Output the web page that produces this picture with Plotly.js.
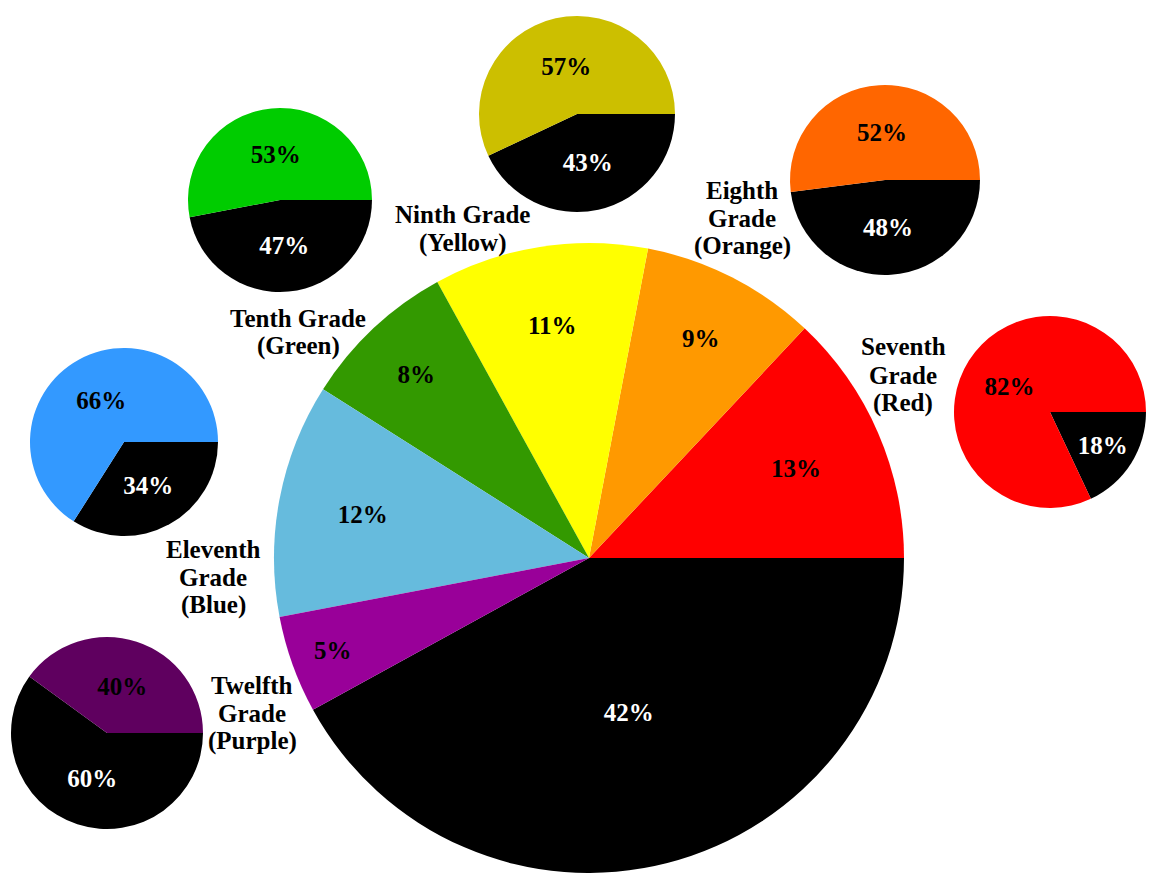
<!DOCTYPE html>
<html>
<head>
<meta charset="utf-8">
<script src="https://cdn.plot.ly/plotly-3.0.1.min.js"></script>
<style>html,body{margin:0;padding:0;background:#fff;}#chart{width:1159px;height:873px;}</style>
</head>
<body>
<div id="chart"></div>
<script>
// Main pie: share by grade (black = remainder), listed black first so that
// Plotly's counterclockwise layout starts Red at 3 o'clock going up.
const grades = ["Other", "Seventh Grade (Red)", "Eighth Grade (Orange)", "Ninth Grade (Yellow)", "Tenth Grade (Green)", "Eleventh Grade (Blue)", "Twelfth Grade (Purple)"];
const gradeShares = [42, 13, 9, 11, 8, 12, 5];
const mainColors = ["#000000", "#FF0000", "#FF9900", "#FFFF00", "#339900", "#66BBDD", "#990099"];

// Small pies: [black part, colored part] for each grade
const seventhSplit = [18, 82];
const eighthSplit = [48, 52];
const ninthSplit = [43, 57];
const tenthSplit = [47, 53];
const eleventhSplit = [34, 66];
const twelfthSplit = [60, 40];
const splitLabels = ["Rest", "Grade"];

const gradeLabelLines = [
  ["Seventh", "Grade", "(Red)"],
  ["Eighth", "Grade", "(Orange)"],
  ["Ninth Grade", "(Yellow)"],
  ["Tenth Grade", "(Green)"],
  ["Eleventh", "Grade", "(Blue)"],
  ["Twelfth", "Grade", "(Purple)"]
];

const W = 1159, H = 873;
const FONT = "Liberation Serif";

function dom(cx, cy, r) {
  return {x: [(cx - r) / W, (cx + r) / W], y: [(H - cy - r) / H, (H - cy + r) / H]};
}
function smallPie(vals, color, cx, cy, r) {
  return {
    type: "pie", values: vals, labels: splitLabels, sort: false,
    direction: "counterclockwise", rotation: 90,
    marker: {colors: ["#000000", color], line: {width: 0}},
    texttemplate: "%{percent:.0%}", textposition: "inside", insidetextorientation: "horizontal",
    textfont: {family: FONT, size: 25, color: ["#ffffff", "#000000"], weight: "bold"},
    domain: dom(cx, cy, r), hoverinfo: "label+percent", showlegend: false
  };
}

const mainTextColors = mainColors.map(c => c === "#000000" ? "#ffffff" : "#000000");

const data = [
  {
    type: "pie", values: gradeShares, labels: grades, sort: false,
    direction: "counterclockwise", rotation: 90,
    marker: {colors: mainColors, line: {width: 0}},
    texttemplate: "%{percent:.0%}", textposition: "inside", insidetextorientation: "horizontal",
    textfont: {family: FONT, size: 25, color: mainTextColors, weight: "bold"},
    domain: {x: [274 / W, 904 / W], y: [0, 630 / H]}, showlegend: false
  },
  smallPie(seventhSplit, "#FF0000", 1050, 412, 96),
  smallPie(eighthSplit, "#FF6600", 885, 180, 95),
  smallPie(ninthSplit, "#CCBF00", 577, 114, 98),
  smallPie(tenthSplit, "#00CC00", 280, 200, 92),
  smallPie(eleventhSplit, "#3399FF", 124, 442, 94),
  smallPie(twelfthSplit, "#5F005F", 107, 733, 96)
];

// label block center (pixels)
const labelPos = [[903, 375], [742, 218], [462, 228.5], [298, 332.5], [213, 577], [252, 713]];
const LINE = 28;
const annotations = [];
gradeLabelLines.forEach((lines, i) => {
  const n = lines.length;
  lines.forEach((t, j) => {
    const py = labelPos[i][1] + (j - (n - 1) / 2) * LINE;
    annotations.push({
      text: t, x: labelPos[i][0] / W, y: 1 - py / H,
      xref: "paper", yref: "paper", xanchor: "center", yanchor: "middle",
      showarrow: false, borderpad: 0,
      font: {family: FONT, size: 25, color: "#000000", weight: "bold"}
    });
  });
});

const layout = {
  width: W, height: H, margin: {l: 0, r: 0, t: 0, b: 0},
  paper_bgcolor: "#ffffff", showlegend: false, annotations: annotations
};
Plotly.newPlot("chart", data, layout, {displayModeBar: false, staticPlot: true});
</script>
</body>
</html>
